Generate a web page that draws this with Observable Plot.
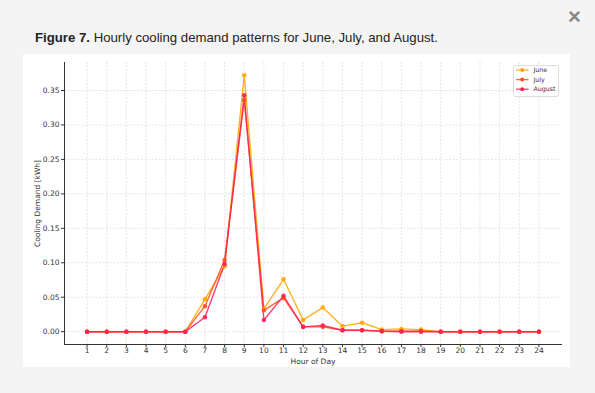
<!DOCTYPE html>
<html><head><meta charset="utf-8">
<script src="https://cdn.jsdelivr.net/npm/d3@7"></script>
<script src="https://cdn.jsdelivr.net/npm/@observablehq/plot@0.6"></script>
<style>
body{margin:0;width:595px;height:393px;background:#f4f4f4;position:relative;overflow:hidden;font-family:"Liberation Sans",Arial,sans-serif}
#title{position:absolute;left:35px;top:30px;font-size:13.2px;color:#222;white-space:nowrap}
#close{position:absolute;left:568px;top:4px;font-size:22px;color:#888;font-weight:bold}
#card{position:absolute;left:23px;top:54px;width:547px;height:313px;background:#fff}
#card svg.plot{position:absolute;left:0;top:0}
#card #legend{position:absolute;left:490px;top:11px}
</style></head>
<body>
<div id="close">×</div>
<div id="title"><b>Figure 7.</b> Hourly cooling demand patterns for June, July, and August.</div>
<div id="card"></div>
<script>
const hours = [1,2,3,4,5,6,7,8,9,10,11,12,13,14,15,16,17,18,19,20,21,22,23,24];
const june   = [0,0,0,0,0,0,0.047,0.095,0.372,0.033,0.076,0.017,0.035,0.008,0.013,0.003,0.004,0.003,0,0,0,0,0,0];
const july   = [0,0,0,0,0,0,0.037,0.104,0.336,0.031,0.049,0.007,0.007,0.002,0.002,0.001,0.001,0.001,0,0,0,0,0,0];
const august = [0,0,0,0,0,0,0.021,0.098,0.343,0.017,0.052,0.007,0.009,0.002,0.002,0.0005,0,0,0,0,0,0,0,0];
const seriesNames = ["June","July","August"];
const seriesColors = ["#ffa500","#ff4f1a","#ff1f55"];
const yTicks = [0,0.05,0.10,0.15,0.20,0.25,0.30,0.35];

const allSeries = [june, july, august];
const data = [];
seriesNames.forEach((name,i)=>hours.forEach((h,j)=>data.push({month:name,hour:h,value:allSeries[i][j]})));

const chart = Plot.plot({
  className:"plot",
  width:547, height:313,
  marginLeft:41, marginRight:9, marginTop:8, marginBottom:23,
  style:{fontFamily:"'DejaVu Sans', sans-serif", fontSize:"7.5px", color:"#333", background:"transparent"},
  x:{domain:[-0.15,25.15]},
  y:{domain:[-0.0186,0.3906]},
  color:{domain:seriesNames, range:seriesColors},
  marks:[
    Plot.gridX(hours,{stroke:"#bbb", strokeOpacity:0.4, strokeDasharray:"2,1.5"}),
    Plot.gridY(yTicks,{stroke:"#bbb", strokeOpacity:0.4, strokeDasharray:"2,1.5"}),
    Plot.frame({anchor:"left", stroke:"#333", strokeOpacity:1}),
    Plot.frame({anchor:"bottom", stroke:"#333", strokeOpacity:1}),
    Plot.axisX(hours,{tickSize:3, tickPadding:0, tickFormat:d=>String(d), label:"Hour of Day", labelAnchor:"center", labelArrow:"none", labelOffset:19, fontSize:7.5}),
    Plot.axisY(yTicks,{tickSize:3, tickPadding:2, tickFormat:d3.format(".2f"), label:"Cooling Demand [kWh]", labelAnchor:"center", labelArrow:"none", labelOffset:30, fontSize:7.5}),
    Plot.line(data,{x:"hour", y:"value", z:"month", stroke:"month", strokeWidth:1.4, strokeOpacity:0.85}),
    Plot.dot(data,{x:"hour", y:"value", fill:"month", r:2.3, fillOpacity:0.9})
  ]
});
document.getElementById("card").appendChild(chart);

// legend
const ns="http://www.w3.org/2000/svg";
const lg=document.createElementNS(ns,"svg");
lg.setAttribute("id","legend");lg.setAttribute("width",46);lg.setAttribute("height",32);
let inner=`<rect x="0.5" y="0.5" width="45" height="31" rx="2" fill="#fff" fill-opacity="0.8" stroke="#ddd"/>`;
seriesNames.forEach((n,i)=>{
  const y=5+i*9.6;
  inner+=`<line x1="3" x2="15.5" y1="${y}" y2="${y}" stroke="${seriesColors[i]}" stroke-width="1.3" stroke-opacity="0.85"/>`;
  inner+=`<circle cx="9.2" cy="${y}" r="2" fill="${seriesColors[i]}"/>`;
  inner+=`<text x="20.5" y="${y}" dy="0.35em" font-family="DejaVu Sans" font-size="6.3" fill="#333">${n}</text>`;
});
lg.innerHTML=inner;
document.getElementById("card").appendChild(lg);
</script>
</body></html>
